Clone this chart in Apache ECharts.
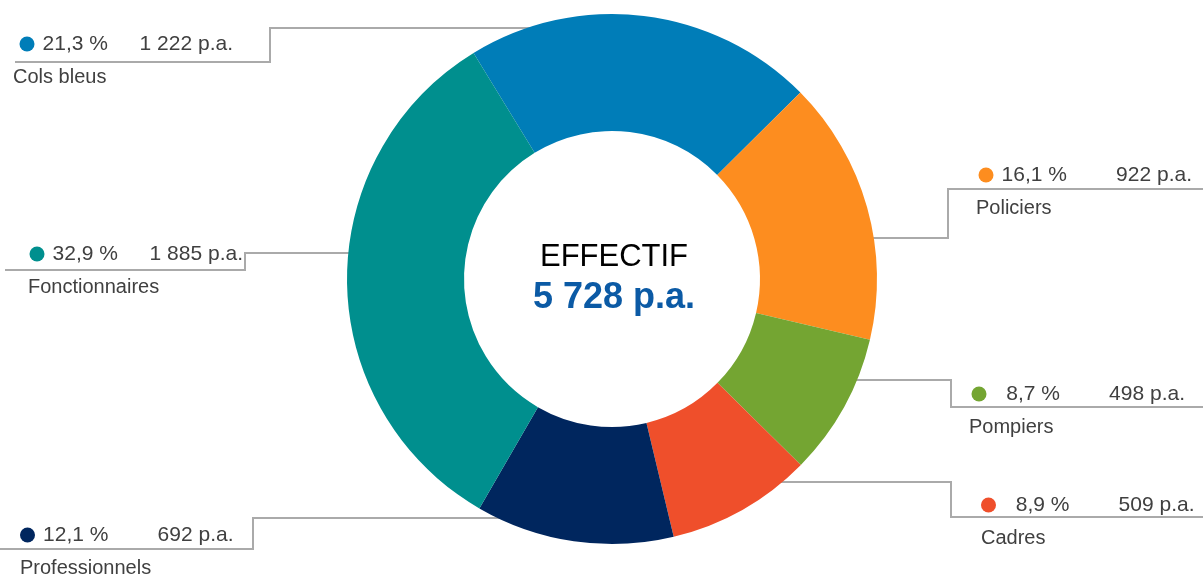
<!DOCTYPE html>
<html>
<head>
<meta charset="UTF-8">
<title>Effectif</title>
<script src="https://cdn.jsdelivr.net/npm/echarts@6/dist/echarts.min.js"></script>
<style>
  html, body { margin: 0; padding: 0; background: #fff; }
  #chart { width: 1203px; height: 580px; }
</style>
</head>
<body>
<div id="chart"></div>
<script>
// data (clockwise from top-left)
var categories = ['Cols bleus', 'Policiers', 'Pompiers', 'Cadres', 'Professionnels', 'Fonctionnaires'];
var effectifs = [1222, 922, 498, 509, 692, 1885];
var colors = ['#007DB8', '#FD8D1F', '#74A532', '#EF4F2B', '#00265E', '#008F8E'];
var centerTitle = 'EFFECTIF';
var unit = 'p.a.';

// label placement: dot centre x, name x, dot y, leader y, elbow x, underline y, end x
var slots = [
  { dotX: 27,  nameX: 13,  dotY: 44,  lineY: 28,  elbowX: 270, underY: 62,  endX: 15 },
  { dotX: 986, nameX: 976, dotY: 175, lineY: 238, elbowX: 948, underY: 189, endX: 1203 },
  { dotX: 979, nameX: 969, dotY: 394, lineY: 380, elbowX: 951, underY: 407, endX: 1203 },
  { dotX: 985, nameX: 981, dotY: 505, lineY: 482, elbowX: 951, underY: 517, endX: 1203 },
  { dotX: 25,  nameX: 20,  dotY: 535, lineY: 518, elbowX: 253, underY: 549, endX: 0 },
  { dotX: 37,  nameX: 28,  dotY: 254, lineY: 253, elbowX: 245, underY: 270, endX: 5 }
];

var cx = 612, cy = 279, rIn = 148, rOut = 265;
var dot = 15;
var font = "'Liberation Sans', Arial, sans-serif";

var total = 0;
for (var i = 0; i < effectifs.length; i++) total += effectifs[i];

function fmtNum(n) {
  return String(n).replace(/\B(?=(\d{3})+(?!\d))/g, '\u00a0');
}
function fmtPct(v) {
  return (v / total * 100).toFixed(1).replace('.', ',') + '\u00a0%';
}

var rich = {
  p: { fontSize: 21, color: '#404040', fontFamily: font, width: 81 - dot / 2, align: 'right', lineHeight: 33 },
  v: { fontSize: 21, color: '#404040', fontFamily: font, width: 125, align: 'right', lineHeight: 33 },
  n: { fontSize: 20, color: '#404040', fontFamily: font, lineHeight: 33 }
};
for (var k = 0; k < slots.length; k++) {
  rich['s' + k] = { width: Math.max(0, slots[k].dotX - dot / 2 - slots[k].nameX), height: dot, lineHeight: 33 };
  rich['d' + k] = { width: dot, height: dot, borderRadius: dot / 2, backgroundColor: colors[k], lineHeight: 33 };
}

var pieData = [];
for (var j = 0; j < categories.length; j++) {
  pieData.push({ name: categories[j], value: effectifs[j] });
}

var myChart = echarts.init(document.getElementById('chart'));
var option = {
  animation: false,
  color: colors,
  graphic: [
    {
      type: 'text', x: cx + 2, y: cy - 22,
      style: { text: centerTitle, fill: '#000', font: '31px ' + font, textAlign: 'center', textVerticalAlign: 'middle' }
    },
    {
      type: 'text', x: cx + 2, y: cy + 19,
      style: { text: fmtNum(total) + ' ' + unit, fill: '#0B5AA5', font: 'bold 36px ' + font, textAlign: 'center', textVerticalAlign: 'middle' }
    }
  ],
  series: [{
    type: 'pie',
    center: [cx, cy],
    radius: [rIn, rOut],
    startAngle: 121.5,
    clockwise: true,
    avoidLabelOverlap: false,
    emphasis: { disabled: true },
    data: pieData,
    label: {
      show: true,
      position: 'outside',
      formatter: function (p) {
        var i = p.dataIndex;
        return '{s' + i + '|}{d' + i + '|}{p|' + fmtPct(p.value) + '}{v|' + fmtNum(p.value) + ' ' + unit + '}\n{n|' + p.name + '}';
      },
      rich: rich
    },
    labelLine: {
      show: true,
      lineStyle: { color: '#AAAAAA', width: 2 }
    },
    labelLayout: function (params) {
      var s = slots[params.dataIndex];
      var dy = s.lineY - cy;
      var dx = Math.sqrt(Math.max(0, (rOut - 1) * (rOut - 1) - dy * dy));
      var startX = s.endX > cx ? cx + dx : cx - dx;
      return {
        x: s.nameX,
        y: s.dotY - 16.5,
        align: 'left',
        verticalAlign: 'top',
        hideOverlap: false,
        labelLinePoints: [[startX, s.lineY], [s.elbowX, s.lineY], [s.elbowX, s.underY], [s.endX, s.underY]]
      };
    }
  }]
};
myChart.setOption(option);
</script>
</body>
</html>
